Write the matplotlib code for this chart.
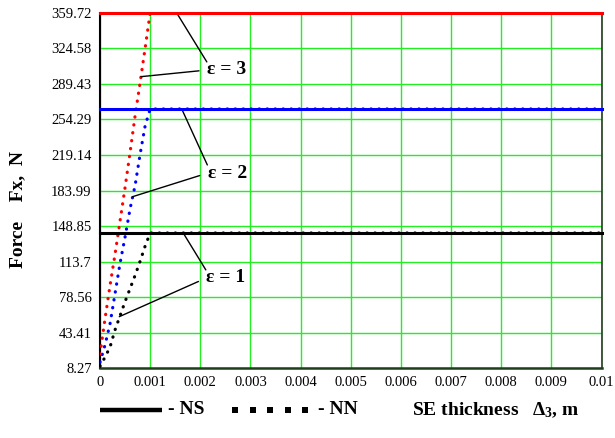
import numpy as np
import matplotlib
matplotlib.use("Agg")
import matplotlib.pyplot as plt
from matplotlib.lines import Line2D

plt.rcParams['font.family'] = ['Liberation Serif', 'DejaVu Serif']
plt.rcParams['mathtext.fontset'] = 'custom'
plt.rcParams['mathtext.rm'] = 'Liberation Serif'
plt.rcParams['mathtext.bf'] = 'Liberation Serif:bold'

# x grid of the NN curves (SE thickness, m)
x_nn = [0, 0.0001, 0.0002, 0.0003, 0.0004, 0.0005, 0.0006, 0.0007, 0.0008, 0.0009, 0.001, 0.01]

# NN (dotted) force values, N
nn_eps1 = [10, 19, 29, 46, 60, 74, 87, 100, 114, 129, 141.9, 141.9]
nn_eps2 = [14, 31, 52, 82, 112, 138, 166, 189, 220, 248, 264.7, 264.7]
nn_eps3 = [22, 57, 90, 121, 154, 187, 222, 258, 291, 325, 359.72, 359.72]

# NS (solid) force values, constant over thickness
x_ns = [0, 0.01]
ns_eps1 = [141.9, 141.9]
ns_eps2 = [264.7, 264.7]
ns_eps3 = [359.72, 359.72]

y_ticks = [8.27, 43.41, 78.56, 113.7, 148.85, 183.99, 219.14, 254.29, 289.43, 324.58, 359.72]
y_labels = ['8.27', '43.41', '78.56', '113.7', '148.85', '183.99', '219.14', '254.29', '289.43', '324.58', '359.72']
x_ticks = [0, 0.001, 0.002, 0.003, 0.004, 0.005, 0.006, 0.007, 0.008, 0.009, 0.01]
x_labels = ['0', '0.001', '0.002', '0.003', '0.004', '0.005', '0.006', '0.007', '0.008', '0.009', '0.01']

# labels: text, text position, point on plateau, point on curve
eps_labels = [
    ('ε = 1', (0.00251, 97.4), (0.00166, 141.9), (0.000385, 59.1)),
    ('ε = 2', (0.00254, 201.3), (0.00163, 264.7), (0.000652, 177.9)),
    ('ε = 3', (0.00253, 303.3), (0.00153, 359.72), (0.000817, 296.7)),
]

fig = plt.figure(figsize=(6.15, 4.38), dpi=100)
ax = fig.add_axes([100 / 615, 70 / 438, 501.5 / 615, 355 / 438])

green = '#22ee22'
ax.set_xticks(x_ticks)
ax.set_yticks(y_ticks)
ax.grid(True, color=green, linewidth=1.0, zorder=0)
ax.set_axisbelow(True)

dot = (0, (0.1, 2.4))
for x, y, c in [(x_nn, nn_eps1, 'black'), (x_nn, nn_eps2, 'blue'), (x_nn, nn_eps3, 'red')]:
    ax.plot(x, y, color=c, linewidth=2.3, linestyle=dot, dash_capstyle='round', zorder=3)
for y, c in [(ns_eps1, 'black'), (ns_eps2, 'blue'), (ns_eps3, 'red')]:
    ax.plot(x_ns, y, color=c, linewidth=2.2, zorder=4, clip_on=False)

for txt, pos, p_top, p_curve in eps_labels:
    ax.annotate(txt, xy=p_curve, xytext=pos, ha='center', va='center',
                fontsize=14, fontweight='bold',
                arrowprops=dict(arrowstyle='-', color='black', lw=1.0,
                                relpos=(0, 0.5), shrinkA=4, shrinkB=0))
    ax.annotate('', xy=p_top, xytext=(pos[0] - 0.00040, pos[1] + 8),
                arrowprops=dict(arrowstyle='-', color='black', lw=1.0,
                                shrinkA=0, shrinkB=0))

ax.set_xlim(0, 0.01)
ax.set_ylim(8.27, 359.72)
ax.set_xticklabels(x_labels, fontsize=10.5)
ax.set_yticklabels(y_labels, fontsize=10.5)
ax.tick_params(length=0, pad=6)

ax.spines['left'].set_color('black')
ax.spines['top'].set_visible(False)
ax.spines['bottom'].set_color('#1e3e1e')
ax.spines['right'].set_color('#1e3e1e')
ax.spines['bottom'].set_linewidth(1.8)
ax.spines['left'].set_linewidth(1.5)
ax.spines['right'].set_linewidth(1.2)

fig.text(18 / 615, 1 - 209 / 438, 'Force    Fx,  N', rotation=90, ha='center', va='center',
         fontsize=14, fontweight='bold')

# bottom legend row
ly = 1 - 410 / 438
fig.add_artist(Line2D([100 / 615, 162 / 615], [ly, ly], color='black', linewidth=3.2,
                      solid_capstyle='butt'))
dots_x = np.linspace(235, 305, 5) / 615
fig.add_artist(Line2D(dots_x, [ly] * 5, color='black', linestyle='none',
                      marker='s', markersize=3.8, markeredgewidth=0))
fig.text(168 / 615, ly, '- NS', ha='left', va='center', fontsize=14, fontweight='bold')
fig.text(318 / 615, ly, '- NN', ha='left', va='center', fontsize=14, fontweight='bold')
fig.text(412 / 615, ly, r'SE thickness   $\mathbf{\Delta_3}$, m', ha='left', va='center',
         fontsize=14, fontweight='bold')

fig.savefig('out.png', dpi=100)
